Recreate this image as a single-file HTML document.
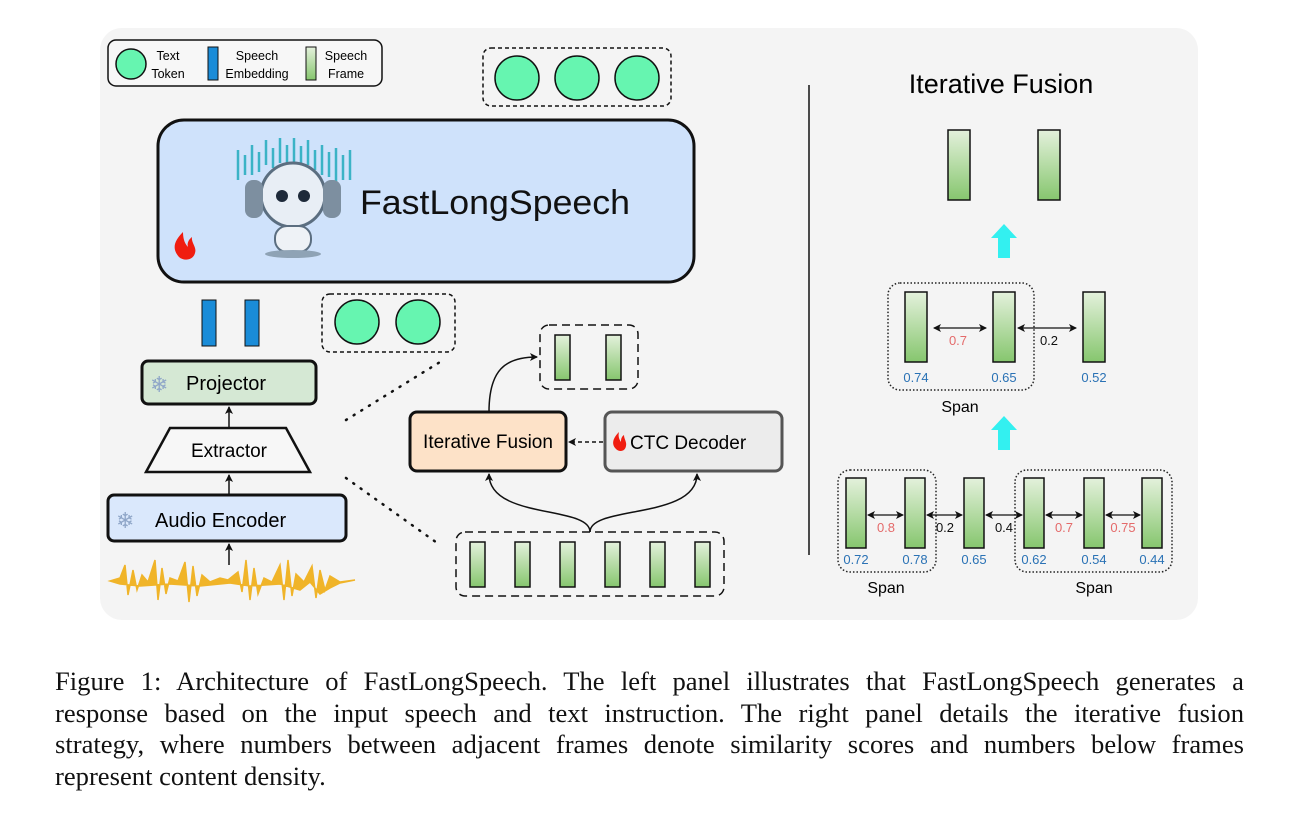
<!DOCTYPE html>
<html><head><meta charset="utf-8"><style>
body{margin:0;background:#fff;width:1299px;height:826px;overflow:hidden}
svg{position:absolute;left:0;top:0}
.cap{position:absolute;left:55px;top:666px;width:1189px;font-family:"Liberation Serif",serif;font-size:26.6px;line-height:31.5px;color:#111}
.cap div{text-align:justify;text-align-last:justify;white-space:nowrap}
.cap div.l{text-align-last:left}
</style></head><body>
<svg width="1299" height="826" viewBox="0 0 1299 826" font-family="Liberation Sans, sans-serif">
<defs>
<linearGradient id="g" x1="0" y1="0" x2="0" y2="1"><stop offset="0" stop-color="#e4f1dc"/><stop offset="1" stop-color="#86c66e"/></linearGradient>
<marker id="a" markerWidth="8" markerHeight="8" refX="7" refY="4" orient="auto" markerUnits="userSpaceOnUse"><path d="M0,0 L8,4 L0,8 L2,4z" fill="#111"/></marker>
<marker id="as" markerWidth="8" markerHeight="8" refX="1" refY="4" orient="auto" markerUnits="userSpaceOnUse"><path d="M8,0 L0,4 L8,8 L6,4z" fill="#111"/></marker>
</defs>
<rect x="100" y="28" width="1098" height="592" rx="22" fill="#f4f4f4"/>
<!-- legend -->
<rect x="108" y="40" width="274" height="46" rx="8" fill="#f7f7f7" stroke="#111" stroke-width="1.5"/>
<circle cx="131" cy="64" r="15" fill="#66f5b0" stroke="#111" stroke-width="1.5"/>
<text x="168" y="60" font-size="12.5" text-anchor="middle">Text</text><text x="168" y="78" font-size="12.5" text-anchor="middle">Token</text>
<rect x="208" y="47" width="10" height="33" fill="#1a8cd8" stroke="#111"/>
<text x="257" y="60" font-size="12.5" text-anchor="middle">Speech</text><text x="257" y="78" font-size="12.5" text-anchor="middle">Embedding</text>
<rect x="306" y="47" width="10" height="33" fill="url(#g)" stroke="#111"/>
<text x="346" y="60" font-size="12.5" text-anchor="middle">Speech</text><text x="346" y="78" font-size="12.5" text-anchor="middle">Frame</text>
<!-- top tokens -->
<rect x="483" y="48" width="188" height="58" rx="8" fill="none" stroke="#111" stroke-width="1.5" stroke-dasharray="4,3"/>
<circle cx="517" cy="78" r="22" fill="#66f5b0" stroke="#111" stroke-width="1.5"/>
<circle cx="577" cy="78" r="22" fill="#66f5b0" stroke="#111" stroke-width="1.5"/>
<circle cx="637" cy="78" r="22" fill="#66f5b0" stroke="#111" stroke-width="1.5"/>
<!-- LLM box -->
<rect x="158" y="120" width="536" height="162" rx="26" fill="#cfe2fb" stroke="#111" stroke-width="3"/>
<g stroke="#3bb3c6" stroke-width="2.5" fill="none">
<path d="M238,150v30M245,155v20M252,145v30M259,152v20M266,140v25M273,148v20M280,138v25M287,145v20M294,138v25M301,146v20M308,140v25M315,150v20M322,145v30M329,152v25M336,148v35M343,155v25M350,150v30"/>
</g>
<circle cx="293" cy="195" r="32" fill="#e8eef5" stroke="#5b6e80" stroke-width="3"/>
<rect x="245" y="180" width="18" height="38" rx="8" fill="#7d8fa0"/><rect x="323" y="180" width="18" height="38" rx="8" fill="#7d8fa0"/>
<circle cx="282" cy="196" r="6" fill="#1e2a3a"/><circle cx="304" cy="196" r="6" fill="#1e2a3a"/>
<rect x="275" y="226" width="36" height="26" rx="12" fill="#eef2f6" stroke="#5b6e80" stroke-width="2"/>
<ellipse cx="293" cy="254" rx="28" ry="4" fill="#8fa3b5"/>
<text x="360" y="214" font-size="34" fill="#111" textLength="270" lengthAdjust="spacingAndGlyphs">FastLongSpeech</text>
<path d="M183,232 c-8,8 -12,16 -4,25 c4,4 14,4 16,-4 c2,-6 -4,-10 -3,-16 c-4,3 -5,7 -4,10 c-4,-4 -5,-10 -5,-15z" fill="#f01d10"/>
<!-- embeddings -->
<rect x="202" y="300" width="14" height="46" fill="#1a8cd8" stroke="#111"/>
<rect x="245" y="300" width="14" height="46" fill="#1a8cd8" stroke="#111"/>
<rect x="322" y="294" width="133" height="58" rx="8" fill="none" stroke="#111" stroke-width="1.5" stroke-dasharray="4,3"/>
<circle cx="357" cy="322" r="22" fill="#66f5b0" stroke="#111" stroke-width="1.5"/>
<circle cx="418" cy="322" r="22" fill="#66f5b0" stroke="#111" stroke-width="1.5"/>
<!-- Projector -->
<rect x="142" y="361" width="174" height="43" rx="6" fill="#d5e8d4" stroke="#111" stroke-width="3"/>
<text x="150" y="392" font-size="22" fill="#8fa6c8">❄</text>
<text x="186" y="390" font-size="20">Projector</text>
<line x1="229" y1="428" x2="229" y2="407" stroke="#111" stroke-width="1.5" marker-end="url(#a)"/>
<path d="M170,428 L286,428 L310,472 L146,472z" fill="#f7f7f7" stroke="#111" stroke-width="2.5"/>
<text x="229" y="457" font-size="19" text-anchor="middle">Extractor</text>
<line x1="229" y1="495" x2="229" y2="475" stroke="#111" stroke-width="1.5" marker-end="url(#a)"/>
<rect x="108" y="495" width="238" height="46" rx="6" fill="#dae8fc" stroke="#111" stroke-width="3"/>
<text x="116" y="528" font-size="22" fill="#8fa6c8">❄</text>
<text x="155" y="527" font-size="20">Audio Encoder</text>
<line x1="229" y1="565" x2="229" y2="544" stroke="#111" stroke-width="1.5" marker-end="url(#a)"/>
<path d="M110,581 L120,578 L125,565 L128,595 L133,570 L137,590 L142,575 L148,582 L155,560 L158,600 L162,568 L166,594 L170,578 L178,581 L185,562 L189,602 L193,566 L197,596 L202,575 L210,582 L220,578 L228,580 L238,572 L242,592 L246,560 L250,600 L254,568 L258,594 L264,578 L272,582 L280,565 L284,600 L288,560 L292,596 L296,574 L304,582 L312,566 L316,598 L320,570 L325,590 L330,576 L340,582 L355,580 L340,583 L330,588 L320,594 L310,582 L300,590 L280,584 L250,586 L230,583 L200,586 L170,584 L140,586 L120,584z" fill="#f0b429" stroke="#f0b429" stroke-width="1.5"/>
<!-- dotted connectors -->
<line x1="346" y1="420" x2="440" y2="362" stroke="#111" stroke-width="2.5" stroke-dasharray="1,8" stroke-linecap="round"/>
<line x1="346" y1="478" x2="440" y2="545" stroke="#111" stroke-width="2.5" stroke-dasharray="1,8" stroke-linecap="round"/>
<!-- fusion boxes -->
<rect x="410" y="412" width="156" height="59" rx="7" fill="#fde2c8" stroke="#111" stroke-width="3"/>
<text x="488" y="448" font-size="19" text-anchor="middle">Iterative Fusion</text>
<rect x="605" y="412" width="177" height="59" rx="7" fill="#ececec" stroke="#555" stroke-width="3"/>
<path d="M619,432 c-6,6 -8,12 -3,17 c3,3 9,3 10,-3 c1,-4 -2,-7 -2,-11 c-3,2 -3,5 -3,7 c-2,-3 -3,-6 -2,-10z" fill="#f01d10"/>
<text x="630" y="449" font-size="19">CTC Decoder</text>
<line x1="603" y1="442" x2="569" y2="442" stroke="#111" stroke-width="1.5" stroke-dasharray="4,3" marker-end="url(#a)"/>
<rect x="540" y="325" width="98" height="64" rx="9" fill="none" stroke="#111" stroke-width="1.5" stroke-dasharray="8,5"/>
<rect x="555" y="335" width="15" height="45" fill="url(#g)" stroke="#111" stroke-width="1.5"/>
<rect x="606" y="335" width="15" height="45" fill="url(#g)" stroke="#111" stroke-width="1.5"/>
<path d="M489,412 C489,370 505,357 537,357" fill="none" stroke="#111" stroke-width="1.5" marker-end="url(#a)"/>
<rect x="456" y="532" width="268" height="64" rx="9" fill="none" stroke="#111" stroke-width="1.5" stroke-dasharray="8,5"/>
<g fill="url(#g)" stroke="#111" stroke-width="1.5">
<rect x="470" y="542" width="15" height="45"/><rect x="515" y="542" width="15" height="45"/><rect x="560" y="542" width="15" height="45"/><rect x="605" y="542" width="15" height="45"/><rect x="650" y="542" width="15" height="45"/><rect x="695" y="542" width="15" height="45"/>
</g>
<path d="M590,532 C590,505 489,520 489,474" fill="none" stroke="#111" stroke-width="1.5" marker-end="url(#a)"/>
<path d="M590,532 C590,505 697,520 697,474" fill="none" stroke="#111" stroke-width="1.5" marker-end="url(#a)"/>
<!-- divider -->
<line x1="809" y1="85" x2="809" y2="555" stroke="#111" stroke-width="1.5"/>
<text x="1001" y="93" font-size="27" text-anchor="middle">Iterative Fusion</text>
<g fill="url(#g)" stroke="#111" stroke-width="1.5">
<rect x="948" y="130" width="22" height="70"/><rect x="1038" y="130" width="22" height="70"/>
<rect x="905" y="292" width="22" height="70"/><rect x="993" y="292" width="22" height="70"/><rect x="1083" y="292" width="22" height="70"/>
<rect x="846" y="478" width="20" height="70"/><rect x="905" y="478" width="20" height="70"/><rect x="964" y="478" width="20" height="70"/><rect x="1024" y="478" width="20" height="70"/><rect x="1084" y="478" width="20" height="70"/><rect x="1142" y="478" width="20" height="70"/>
</g>
<path d="M998,258 v-20 h-7 l13,-14 l13,14 h-7 v20z" fill="#33f0f0"/>
<path d="M998,450 v-20 h-7 l13,-14 l13,14 h-7 v20z" fill="#33f0f0"/>
<rect x="888" y="283" width="146" height="107" rx="12" fill="none" stroke="#222" stroke-width="1.5" stroke-dasharray="1.5,2"/>
<rect x="838" y="470" width="98" height="102" rx="12" fill="none" stroke="#222" stroke-width="1.5" stroke-dasharray="1.5,2"/>
<rect x="1015" y="470" width="157" height="102" rx="12" fill="none" stroke="#222" stroke-width="1.5" stroke-dasharray="1.5,2"/>
<g stroke="#111" stroke-width="1.3" marker-end="url(#a)" marker-start="url(#as)">
<line x1="934" y1="328" x2="986" y2="328"/><line x1="1018" y1="328" x2="1076" y2="328"/>
<line x1="868" y1="515" x2="903" y2="515"/><line x1="927" y1="515" x2="962" y2="515"/><line x1="986" y1="515" x2="1022" y2="515"/><line x1="1046" y1="515" x2="1082" y2="515"/><line x1="1106" y1="515" x2="1140" y2="515"/>
</g>
<g font-size="13" text-anchor="middle">
<text x="958" y="345" fill="#e46a6a">0.7</text><text x="1049" y="345" fill="#111">0.2</text>
<text x="916" y="382" fill="#2a72b5">0.74</text><text x="1004" y="382" fill="#2a72b5">0.65</text><text x="1094" y="382" fill="#2a72b5">0.52</text>
<text x="886" y="532" fill="#e46a6a">0.8</text><text x="945" y="532" fill="#111">0.2</text><text x="1004" y="532" fill="#111">0.4</text><text x="1064" y="532" fill="#e46a6a">0.7</text><text x="1123" y="532" fill="#e46a6a">0.75</text>
<text x="856" y="564" fill="#2a72b5">0.72</text><text x="915" y="564" fill="#2a72b5">0.78</text><text x="974" y="564" fill="#2a72b5">0.65</text><text x="1034" y="564" fill="#2a72b5">0.62</text><text x="1094" y="564" fill="#2a72b5">0.54</text><text x="1152" y="564" fill="#2a72b5">0.44</text>
</g>
<g font-size="16" text-anchor="middle"><text x="960" y="412">Span</text><text x="886" y="593">Span</text><text x="1094" y="593">Span</text></g>
</svg>
<div class="cap">
<div>Figure 1: Architecture of FastLongSpeech. The left panel illustrates that FastLongSpeech generates a</div>
<div>response based on the input speech and text instruction. The right panel details the iterative fusion</div>
<div>strategy, where numbers between adjacent frames denote similarity scores and numbers below frames</div>
<div class="l">represent content density.</div>
</div>
</body></html>
